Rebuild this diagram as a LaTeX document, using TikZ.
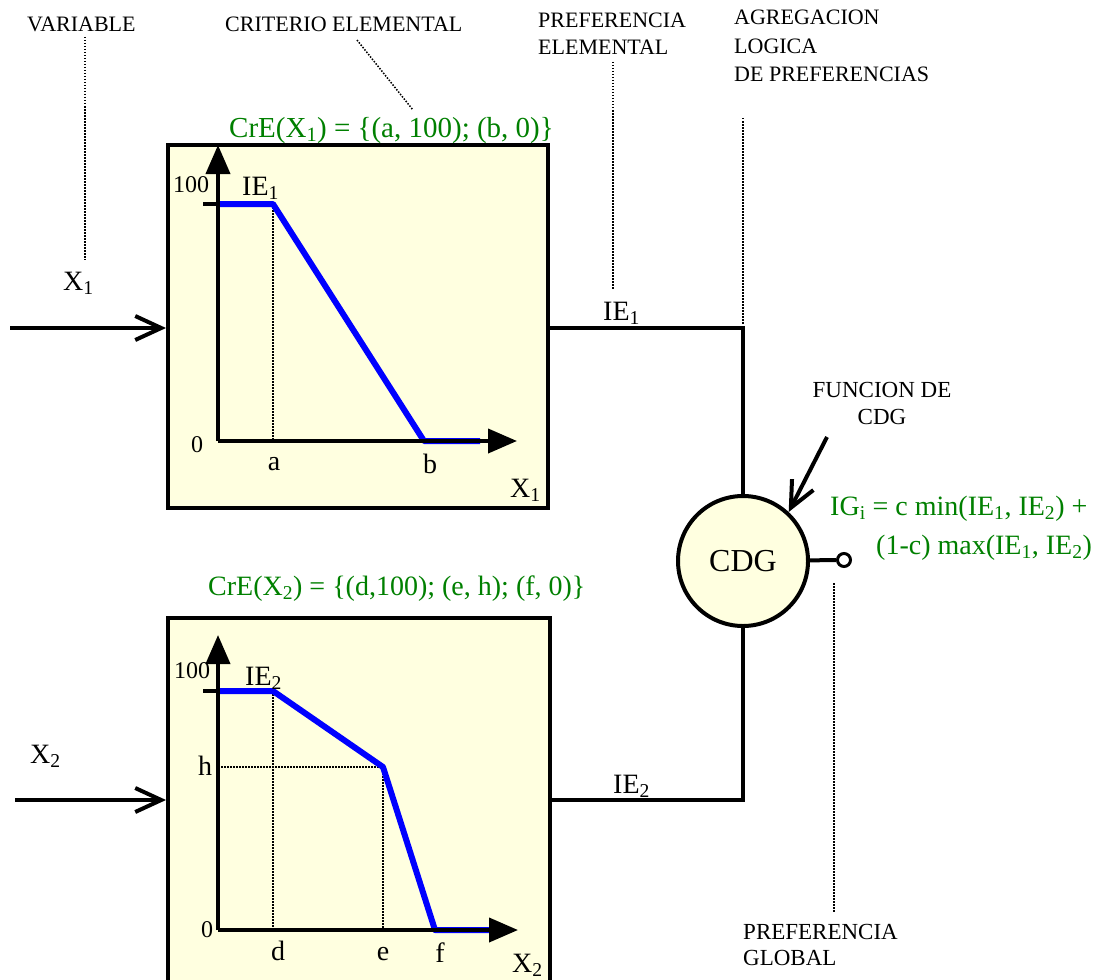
\documentclass[tikz,border=0pt]{standalone}
\usepackage{fontspec}
\setmainfont{Liberation Serif}
\usetikzlibrary{arrows.meta,positioning}
\definecolor{CDfillc}{RGB}{255,255,224}
\definecolor{CDgreenc}{RGB}{0,128,0}
\newcommand{\sbs}[1]{\textsubscript{#1}}
\newcommand{\CDbigf}{\fontsize{28}{32}\selectfont}
\newcommand{\CDsmf}{\fontsize{22}{28}\selectfont}
\newcommand{\CDmdf}{\fontsize{23}{28}\selectfont}
\newcommand{\CDtkf}{\fontsize{24}{28}\selectfont}
\tikzset{CDbox/.style={draw,line width=4pt,fill=CDfillc,inner sep=0pt},
         CDaxis/.style={line width=4pt,-{Triangle[length=29pt,width=24pt]}},
         CDcurve/.style={blue,line width=6pt,line join=round},
         CDdot/.style={line width=1.5pt,dash pattern=on 1.5pt off 1.5pt},
         CDwire/.style={line width=4pt},
         CDin/.style={line width=4pt,-{Straight Barb[length=26pt,width=24pt]}},
         CDlab/.style={font=\CDsmf,inner sep=0pt},
         CDmid/.style={font=\CDmdf,inner sep=0pt},
         CDbig/.style={font=\CDbigf,inner sep=0pt},
         CDtick/.style={font=\CDtkf,inner sep=0pt},
         CDgreen/.style={font=\CDbigf,text=CDgreenc,inner sep=0pt}}

\begin{document}
\begin{tikzpicture}[x=1pt,y=-1pt]
    \useasboundingbox (0,0) rectangle (1099,979);
    \fill[white] (0,0) rectangle (1099,979);
    \clip (0,0) rectangle (1099,979);
    % captions
    \foreach \n/\x/\y/\t in {var/27/32/VARIABLE, crit/225/32/CRITERIO ELEMENTAL,
        prefa/538/28/PREFERENCIA, prefb/538/55/ELEMENTAL,
        agra/734/25/AGREGACION, agrb/734/54/LOGICA, agrc/734/82/DE PREFERENCIAS}
      {\node[CDlab,anchor=base west] (\n) at (\x,\y) {\t};}
    \foreach \n/\x/\y/\t in {globa/743/939/PREFERENCIA, globb/743/965/GLOBAL}
      {\node[CDmid,anchor=base west] (\n) at (\x,\y) {\t};}
    \node[CDmid,anchor=base] (fna) at (882,397) {FUNCION DE};
    \node[CDmid,anchor=base] (fnb) at (882,424) {CDG};
    \foreach \n/\xa/\ya/\xb/\yb in {var/85/37/85/260, crit/357/40/413/110,
        pref/613/62/613/290, agr/743/118/743/325, glob/834/583/834/913}
      {\coordinate (\n s) at (\xa,\ya); \coordinate (\n e) at (\xb,\yb);
       \draw[CDdot] (\n s) -- (\n e);}
    % the two criteria
    \node[CDbox,minimum width=380pt,minimum height=363pt] (box1) at (358,326.5) {};
    \node[CDbox,minimum width=382pt,minimum height=392pt] (box2) at (359,814) {};
    \node[CDgreen,font=\fontsize{29}{32}\selectfont,anchor=base west] (cre1) at (229,137) {CrE(X\sbs{1}) = \{(a, 100); (b, 0)\}};
    \node[CDgreen,anchor=base west] (cre2) at (208,595) {CrE(X\sbs{2}) = \{(d,100); (e, h); (f, 0)\}};
    % first graph
    \coordinate (o1) at (218,441);
    \draw[CDdot] (273,204) -- (273,441);
    \draw[CDwire] (203,204) -- (218,204);
    \draw[CDcurve] (216,204) -- (273,204) -- (424,441) -- (480,441);
    \draw[CDaxis] (o1) -- (218,145);
    \draw[CDaxis] (o1) -- (517,441);
    \node[CDtick,anchor=base] (t1a) at (191,192) {100};
    \node[CDtick,anchor=base] (t1b) at (197,452) {0};
    \node[CDbig,anchor=base west] (ie1in) at (242,195) {IE\sbs{1}};
    \node[CDbig,anchor=base] (pa) at (274,470) {a};
    \node[CDbig,anchor=base] (pb) at (430,473) {b};
    \node[CDbig,anchor=base west] (x1in) at (510,497) {X\sbs{1}};
    % second graph
    \coordinate (o2) at (218,930);
    \draw[CDdot] (273,691) -- (273,930);
    \draw[CDdot] (218,767) -- (383,767) -- (383,930);
    \draw[CDwire] (203,691) -- (218,691);
    \draw[CDcurve] (216,691) -- (273,691) -- (383,767) -- (435,930) -- (490,930);
    \draw[CDaxis] (o2) -- (218,635);
    \draw[CDaxis] (o2) -- (518,930);
    \node[CDtick,anchor=base] (t2a) at (192,678) {100};
    \node[CDtick,anchor=base] (t2b) at (207,937) {0};
    \node[CDbig,anchor=base] (ph) at (205,775) {h};
    \node[CDbig,anchor=base west] (ie2in) at (245,685) {IE\sbs{2}};
    \node[CDbig,anchor=base] (pd) at (278,960) {d};
    \node[CDbig,anchor=base] (pe) at (383,960) {e};
    \node[CDbig,anchor=base] (pf) at (440,962) {f};
    \node[CDbig,anchor=base west] (x2in) at (512,972) {X\sbs{2}};
    % inputs
    \coordinate (in1) at (10,328);
    \coordinate (in2) at (15,800);
    \draw[CDin] (in1) -- (in1 -| box1.west);
    \draw[CDin] (in2) -- (in2 -| box2.west);
    \node[CDbig,anchor=base west] (x1) at (63,290) {X\sbs{1}};
    \node[CDbig,anchor=base west] (x2) at (30,763) {X\sbs{2}};
    % aggregation
    \node[CDbox,circle,minimum size=130pt,font=\fontsize{32}{36}\selectfont] (cdg) at (743,561) {CDG};
    \draw[CDwire] (box1.east |- in1) -| (cdg.north);
    \draw[CDwire] (box2.east |- in2) -| (cdg.south);
    \node[CDbig,anchor=base west] (ie1) at (603,320) {IE\sbs{1}};
    \node[CDbig,anchor=base west] (ie2) at (613,793) {IE\sbs{2}};
    \node[circle,draw,line width=3pt,fill=white,minimum size=13pt,inner sep=0pt] (outc) at (844,560) {};
    \draw[CDwire] (cdg) -- (outc);
    \coordinate (fnarrow) at (827,437);
    \draw[CDin] (fnarrow) -- (cdg.47);
    \node[CDgreen,anchor=base west] (iga) at (830,515) {IG\sbs{i} = c min(IE\sbs{1}, IE\sbs{2}) +};
    \node[CDgreen,anchor=base west] (igb) at (876,554) {(1-c) max(IE\sbs{1}, IE\sbs{2})};
  \end{tikzpicture}
\end{document}
